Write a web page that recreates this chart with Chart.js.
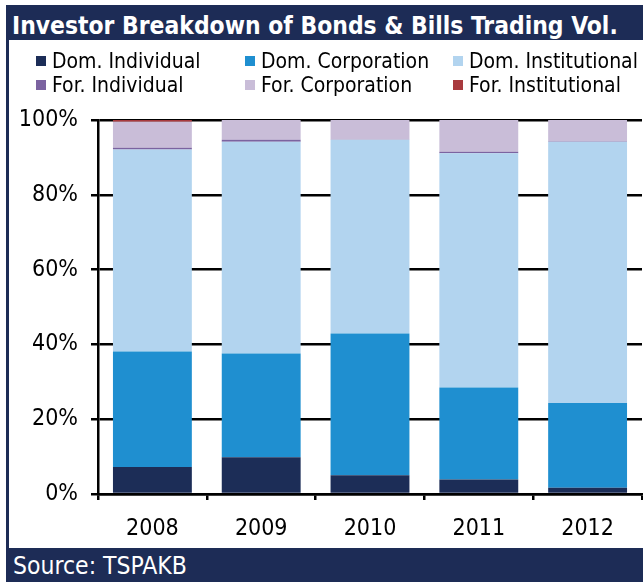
<!DOCTYPE html>
<html>
<head>
<meta charset="utf-8">
<script src="https://cdn.jsdelivr.net/npm/chart.js@4/dist/chart.umd.min.js"></script>
<style>
  html, body { margin:0; padding:0; background:#fff; }
  body { width:643px; height:582px; position:relative; overflow:hidden; font-family:'DejaVu Sans Condensed','DejaVu Sans',sans-serif; }
  #titlebar { position:absolute; left:6px; top:5px; width:637px; height:35px; background:#1d2c56; }
  #title { position:absolute; left:6px; top:6px; color:#fff; font-family:'DejaVu Sans Condensed','DejaVu Sans',sans-serif; font-weight:bold; font-size:24.4px; white-space:nowrap; }
  #leftline { position:absolute; left:6px; top:40px; width:2.5px; height:508px; background:#1d2c56; z-index:3; }
  #footer { position:absolute; left:6px; top:548px; width:637px; height:34px; background:#1d2c56; }
  #source { position:absolute; left:7px; top:3px; color:#fff; font-size:24.5px; white-space:nowrap; }
  #chartwrap { position:absolute; left:0; top:0; width:643px; height:548px; }
  .lg { position:absolute; font-size:21px; color:#000; white-space:nowrap; line-height:22px; }
  .lg i { position:absolute; left:-16px; top:6px; width:10px; height:10px; }
</style>
</head>
<body>
<div id="titlebar"><div id="title">Investor Breakdown of Bonds &amp; Bills Trading Vol.</div></div>
<div id="leftline"></div>
<div id="chartwrap"><canvas id="c" width="643" height="548"></canvas></div>
<div id="legend"></div>
<div id="footer"><div id="source">Source: TSPAKB</div></div>
<script>
const categories = ['2008', '2009', '2010', '2011', '2012'];
const seriesNames = ['Dom. Individual', 'Dom. Corporation', 'Dom. Institutional', 'For. Individual', 'For. Corporation', 'For. Institutional'];
const domIndividual    = [7.2, 9.8, 5.0, 3.9, 1.7];
const domCorporation   = [30.9, 27.8, 37.9, 24.6, 22.6];
const domInstitutional = [54.0, 56.6, 51.8, 62.6, 69.9];
const forIndividual    = [0.5, 0.5, 0.1, 0.4, 0.1];
const forCorporation   = [6.9, 5.3, 5.2, 8.5, 5.7];
const forInstitutional = [0.5, 0.0, 0.0, 0.0, 0.0];
const yTicks = [0, 20, 40, 60, 80, 100];

const colors = ['#1c2d57', '#1f8fd0', '#b2d4ef', '#7b63a0', '#c9bdd8', '#a83a3e'];
const values = [domIndividual, domCorporation, domInstitutional, forIndividual, forCorporation, forInstitutional];

// legend (HTML, real text)
const legendPos = [[52,50],[261,50],[469,50],[52,74],[261,74],[469,74]];
const lg = document.getElementById('legend');
seriesNames.forEach((n, i) => {
  const d = document.createElement('div');
  d.className = 'lg';
  d.style.left = legendPos[i][0] + 'px';
  d.style.top = legendPos[i][1] + 'px';
  d.innerHTML = '<i style="background:' + colors[i] + '"></i>' + n;
  lg.appendChild(d);
});

const FONT = "'DejaVu Sans Condensed','DejaVu Sans',sans-serif";
new Chart(document.getElementById('c'), {
  type: 'bar',
  data: {
    labels: categories,
    datasets: seriesNames.map((n, i) => ({
      label: n,
      data: values[i],
      backgroundColor: colors[i],
      borderWidth: 0,
      categoryPercentage: 1.0,
      barPercentage: 0.725
    }))
  },
  options: {
    responsive: false,
    animation: false,
    layout: { padding: { top: 120, left: 0, right: 1, bottom: 0 } },
    plugins: { legend: { display: false }, tooltip: { enabled: false }, title: { display: false } },
    scales: {
      x: {
        stacked: true,
        offset: true,
        grid: { display: true, drawOnChartArea: false, drawTicks: true, tickLength: 6, color: '#000', lineWidth: 2.5, offset: true },
        border: { display: true, color: '#000', width: 2.5 },
        ticks: { color: '#000', font: { family: FONT, size: 23 }, padding: 15 },
        afterFit: s => { s.height = 54; }
      },
      y: {
        stacked: true,
        min: 0, max: 100,
        afterBuildTicks: s => { s.ticks = yTicks.map(v => ({ value: v })); },
        grid: { color: '#000', lineWidth: 2.5, drawTicks: true, tickLength: 7 },
        border: { display: true, color: '#000', width: 2.5 },
        ticks: { color: '#000', font: { family: FONT, size: 23 }, padding: 13, callback: v => v + '%' },
        afterFit: s => { s.width = 98; }
      }
    }
  }
});
</script>
</body>
</html>
